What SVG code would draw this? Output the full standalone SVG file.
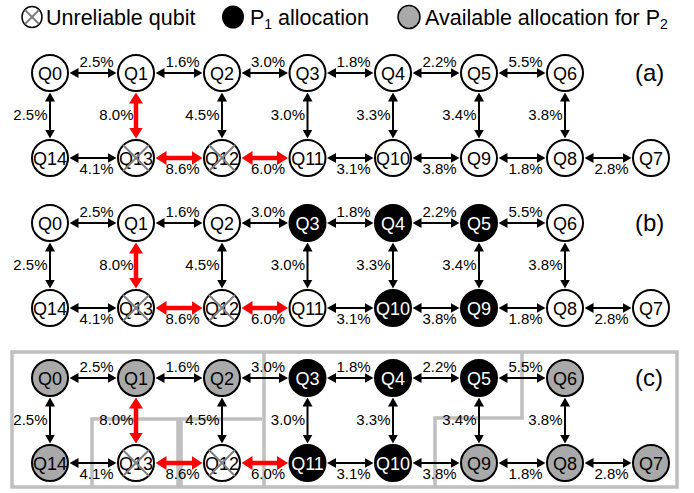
<svg xmlns="http://www.w3.org/2000/svg" xmlns:xlink="http://www.w3.org/1999/xlink" width="694" height="493" viewBox="0 0 694 493">
  <style>
    text { font-family: "Liberation Sans", Arial, sans-serif; fill: #000; }
    .q { font-size: 18px; text-anchor: middle; }
    .qw { fill: #fff; }
    .lbl { font-size: 15px; text-anchor: middle; }
    .vl { font-size: 15px; text-anchor: end; }
    .leg { font-size: 21.5px; }
    .tag { font-size: 24px; }
    .n { stroke: #000; stroke-width: 2; fill: #fff; }
    .p1 { fill: #000; }
    .p2 { fill: #a9a9a9; }
    .x { stroke: #7f7f7f; stroke-width: 2; }
    .e { stroke: #000; stroke-width: 2; fill: none; marker-start: url(#ah); marker-end: url(#ah); }
    .r { stroke: #f00; stroke-width: 4.5; fill: none; marker-start: url(#ahr); marker-end: url(#ahr); }
    .zone { stroke: #bfbfbf; stroke-width: 3.5; fill: none; }
  </style>
  <defs>
    <marker id="ah" viewBox="0 0 9 10" refX="0.5" refY="5" markerWidth="9" markerHeight="10" markerUnits="userSpaceOnUse" orient="auto-start-reverse">
      <path d="M0,0 L9,5 L0,10 z" fill="#000"/>
    </marker>
    <marker id="ahr" viewBox="0 0 11 14" refX="0.5" refY="7" markerWidth="11" markerHeight="14" markerUnits="userSpaceOnUse" orient="auto-start-reverse">
      <path d="M0,0 L11,7 L0,14 z" fill="#f00"/>
    </marker>
    <!-- coupling links with error rates, shared by all three panels -->
    <g id="links">
      <!-- upper row -->
      <line class="e" x1="78" y1="73" x2="108" y2="73"/>
      <line class="e" x1="164" y1="73" x2="194" y2="73"/>
      <line class="e" x1="250" y1="73" x2="279.5" y2="73"/>
      <line class="e" x1="335.5" y1="73" x2="365" y2="73"/>
      <line class="e" x1="421" y1="73" x2="451" y2="73"/>
      <line class="e" x1="507" y1="73" x2="537" y2="73"/>
      <!-- lower row -->
      <line class="e" x1="78" y1="158" x2="108" y2="158"/>
      <line class="r" x1="166" y1="158" x2="192" y2="158"/>
      <line class="r" x1="252" y1="158" x2="277.5" y2="158"/>
      <line class="e" x1="335.5" y1="158" x2="365" y2="158"/>
      <line class="e" x1="421" y1="158" x2="451" y2="158"/>
      <line class="e" x1="507" y1="158" x2="537" y2="158"/>
      <line class="e" x1="593" y1="158" x2="623" y2="158"/>
      <!-- verticals -->
      <line class="e" x1="50" y1="101" x2="50" y2="130"/>
      <line class="r" x1="136" y1="103" x2="136" y2="128"/>
      <line class="e" x1="222" y1="101" x2="222" y2="130"/>
      <line class="e" x1="307.5" y1="101" x2="307.5" y2="130"/>
      <line class="e" x1="393" y1="101" x2="393" y2="130"/>
      <line class="e" x1="479" y1="101" x2="479" y2="130"/>
      <line class="e" x1="565" y1="101" x2="565" y2="130"/>
      <!-- rates -->
      <text class="lbl" x="96.5" y="66.5">2.5%</text>
      <text class="lbl" x="182.5" y="66.5">1.6%</text>
      <text class="lbl" x="268" y="66.5">3.0%</text>
      <text class="lbl" x="353.5" y="66.5">1.8%</text>
      <text class="lbl" x="439.5" y="66.5">2.2%</text>
      <text class="lbl" x="525.5" y="66.5">5.5%</text>
      <text class="lbl" x="96.5" y="174">4.1%</text>
      <text class="lbl" x="182.5" y="174">8.6%</text>
      <text class="lbl" x="268" y="174">6.0%</text>
      <text class="lbl" x="353.5" y="174">3.1%</text>
      <text class="lbl" x="439.5" y="174">3.8%</text>
      <text class="lbl" x="525.5" y="174">1.8%</text>
      <text class="lbl" x="611.5" y="174">2.8%</text>
      <text class="vl" x="47.5" y="120">2.5%</text>
      <text class="vl" x="133.5" y="120">8.0%</text>
      <text class="vl" x="219.5" y="120">4.5%</text>
      <text class="vl" x="305" y="120">3.0%</text>
      <text class="vl" x="390.5" y="120">3.3%</text>
      <text class="vl" x="476.5" y="120">3.4%</text>
      <text class="vl" x="562.5" y="120">3.8%</text>
    </g>
    <!-- cross for a faulty qubit, centred on 0,0 -->
    <g id="cross">
      <line class="x" x1="-13" y1="-13" x2="13" y2="13"/>
      <line class="x" x1="-13" y1="13" x2="13" y2="-13"/>
    </g>
  </defs>

  <!-- legend -->
  <g id="legend">
    <g id="legend-unreliable">
      <ellipse cx="32" cy="17" rx="10" ry="10.5" fill="#fff" stroke="#000" stroke-width="1.5"/>
      <line class="x" x1="25" y1="10" x2="39" y2="24" stroke-width="1.5"/>
      <line class="x" x1="25" y1="24" x2="39" y2="10" stroke-width="1.5"/>
      <text class="leg" x="46" y="25">Unreliable qubit</text>
    </g>
    <g id="legend-p1">
      <ellipse cx="233" cy="17" rx="11" ry="11.5" fill="#000"/>
      <text class="leg" x="250" y="25">P<tspan font-size="14" dy="4">1</tspan><tspan dy="-4"> allocation</tspan></text>
    </g>
    <g id="legend-p2">
      <ellipse cx="409" cy="17" rx="11" ry="11.5" fill="#a9a9a9" stroke="#000" stroke-width="1.5"/>
      <text class="leg" x="425" y="25">Available allocation for P<tspan font-size="14" dy="4">2</tspan></text>
    </g>
  </g>

  <!-- region outlines for panel (c) -->
  <g id="zones">
    <rect class="zone" x="12" y="352" width="665" height="135"/>
    <path class="zone" d="M264,352 V487" stroke-width="4.5"/>
    <path class="zone" d="M92,487 V419 H178 V487"/>
    <path class="zone" d="M181,487 V419 H262"/>
    <path class="zone" d="M522,352 V418 H435 V487"/>
  </g>

  <!-- connectors -->
  <g id="connectors">
    <use xlink:href="#links"/>
    <use xlink:href="#links" transform="translate(0,150)"/>
    <use xlink:href="#links" transform="translate(0,305)"/>
  </g>

  <!-- panel (a) -->
  <g id="panel-a">
    <g id="a-q0"><circle class="n" cx="50" cy="73" r="18"/><text class="q" x="50" y="79.5">Q0</text></g>
    <g id="a-q1"><circle class="n" cx="136" cy="73" r="18"/><text class="q" x="136" y="79.5">Q1</text></g>
    <g id="a-q2"><circle class="n" cx="222" cy="73" r="18"/><text class="q" x="222" y="79.5">Q2</text></g>
    <g id="a-q3"><circle class="n" cx="307.5" cy="73" r="18"/><text class="q" x="307.5" y="79.5">Q3</text></g>
    <g id="a-q4"><circle class="n" cx="393" cy="73" r="18"/><text class="q" x="393" y="79.5">Q4</text></g>
    <g id="a-q5"><circle class="n" cx="479" cy="73" r="18"/><text class="q" x="479" y="79.5">Q5</text></g>
    <g id="a-q6"><circle class="n" cx="565" cy="73" r="18"/><text class="q" x="565" y="79.5">Q6</text></g>
    <g id="a-q14"><circle class="n" cx="50" cy="158" r="18"/><text class="q" x="50" y="164.5">Q14</text></g>
    <g id="a-q13"><circle class="n" cx="136" cy="158" r="18"/><text class="q" x="136" y="164.5">Q13</text><use xlink:href="#cross" x="136" y="158"/></g>
    <g id="a-q12"><circle class="n" cx="222" cy="158" r="18"/><text class="q" x="222" y="164.5">Q12</text><use xlink:href="#cross" x="222" y="158"/></g>
    <g id="a-q11"><circle class="n" cx="307.5" cy="158" r="18"/><text class="q" x="307.5" y="164.5">Q11</text></g>
    <g id="a-q10"><circle class="n" cx="393" cy="158" r="18"/><text class="q" x="393" y="164.5">Q10</text></g>
    <g id="a-q9"><circle class="n" cx="479" cy="158" r="18"/><text class="q" x="479" y="164.5">Q9</text></g>
    <g id="a-q8"><circle class="n" cx="565" cy="158" r="18"/><text class="q" x="565" y="164.5">Q8</text></g>
    <g id="a-q7"><circle class="n" cx="651" cy="158" r="18"/><text class="q" x="651" y="164.5">Q7</text></g>
    <text class="tag" x="635" y="81">(a)</text>
  </g>

  <!-- panel (b) -->
  <g id="panel-b">
    <g id="b-q0"><circle class="n" cx="50" cy="223" r="18"/><text class="q" x="50" y="229.5">Q0</text></g>
    <g id="b-q1"><circle class="n" cx="136" cy="223" r="18"/><text class="q" x="136" y="229.5">Q1</text></g>
    <g id="b-q2"><circle class="n" cx="222" cy="223" r="18"/><text class="q" x="222" y="229.5">Q2</text></g>
    <g id="b-q3"><circle class="n p1" cx="307.5" cy="223" r="18"/><text class="q qw" x="307.5" y="229.5">Q3</text></g>
    <g id="b-q4"><circle class="n p1" cx="393" cy="223" r="18"/><text class="q qw" x="393" y="229.5">Q4</text></g>
    <g id="b-q5"><circle class="n p1" cx="479" cy="223" r="18"/><text class="q qw" x="479" y="229.5">Q5</text></g>
    <g id="b-q6"><circle class="n" cx="565" cy="223" r="18"/><text class="q" x="565" y="229.5">Q6</text></g>
    <g id="b-q14"><circle class="n" cx="50" cy="308" r="18"/><text class="q" x="50" y="314.5">Q14</text></g>
    <g id="b-q13"><circle class="n" cx="136" cy="308" r="18"/><text class="q" x="136" y="314.5">Q13</text><use xlink:href="#cross" x="136" y="308"/></g>
    <g id="b-q12"><circle class="n" cx="222" cy="308" r="18"/><text class="q" x="222" y="314.5">Q12</text><use xlink:href="#cross" x="222" y="308"/></g>
    <g id="b-q11"><circle class="n" cx="307.5" cy="308" r="18"/><text class="q" x="307.5" y="314.5">Q11</text></g>
    <g id="b-q10"><circle class="n p1" cx="393" cy="308" r="18"/><text class="q qw" x="393" y="314.5">Q10</text></g>
    <g id="b-q9"><circle class="n p1" cx="479" cy="308" r="18"/><text class="q qw" x="479" y="314.5">Q9</text></g>
    <g id="b-q8"><circle class="n" cx="565" cy="308" r="18"/><text class="q" x="565" y="314.5">Q8</text></g>
    <g id="b-q7"><circle class="n" cx="651" cy="308" r="18"/><text class="q" x="651" y="314.5">Q7</text></g>
    <text class="tag" x="635" y="231">(b)</text>
  </g>

  <!-- panel (c) -->
  <g id="panel-c">
    <g id="c-q0"><circle class="n p2" cx="50" cy="378" r="18"/><text class="q" x="50" y="384.5">Q0</text></g>
    <g id="c-q1"><circle class="n p2" cx="136" cy="378" r="18"/><text class="q" x="136" y="384.5">Q1</text></g>
    <g id="c-q2"><circle class="n p2" cx="222" cy="378" r="18"/><text class="q" x="222" y="384.5">Q2</text></g>
    <g id="c-q3"><circle class="n p1" cx="307.5" cy="378" r="18"/><text class="q qw" x="307.5" y="384.5">Q3</text></g>
    <g id="c-q4"><circle class="n p1" cx="393" cy="378" r="18"/><text class="q qw" x="393" y="384.5">Q4</text></g>
    <g id="c-q5"><circle class="n p1" cx="479" cy="378" r="18"/><text class="q qw" x="479" y="384.5">Q5</text></g>
    <g id="c-q6"><circle class="n p2" cx="565" cy="378" r="18"/><text class="q" x="565" y="384.5">Q6</text></g>
    <g id="c-q14"><circle class="n p2" cx="50" cy="463" r="18"/><text class="q" x="50" y="469.5">Q14</text></g>
    <g id="c-q13"><circle class="n" cx="136" cy="463" r="18"/><text class="q" x="136" y="469.5">Q13</text><use xlink:href="#cross" x="136" y="463"/></g>
    <g id="c-q12"><circle class="n" cx="222" cy="463" r="18"/><text class="q" x="222" y="469.5">Q12</text><use xlink:href="#cross" x="222" y="463"/></g>
    <g id="c-q11"><circle class="n p1" cx="307.5" cy="463" r="18"/><text class="q qw" x="307.5" y="469.5">Q11</text></g>
    <g id="c-q10"><circle class="n p1" cx="393" cy="463" r="18"/><text class="q qw" x="393" y="469.5">Q10</text></g>
    <g id="c-q9"><circle class="n p2" cx="479" cy="463" r="18"/><text class="q" x="479" y="469.5">Q9</text></g>
    <g id="c-q8"><circle class="n p2" cx="565" cy="463" r="18"/><text class="q" x="565" y="469.5">Q8</text></g>
    <g id="c-q7"><circle class="n p2" cx="651" cy="463" r="18"/><text class="q" x="651" y="469.5">Q7</text></g>
    <text class="tag" x="635" y="386">(c)</text>
  </g>
</svg>
